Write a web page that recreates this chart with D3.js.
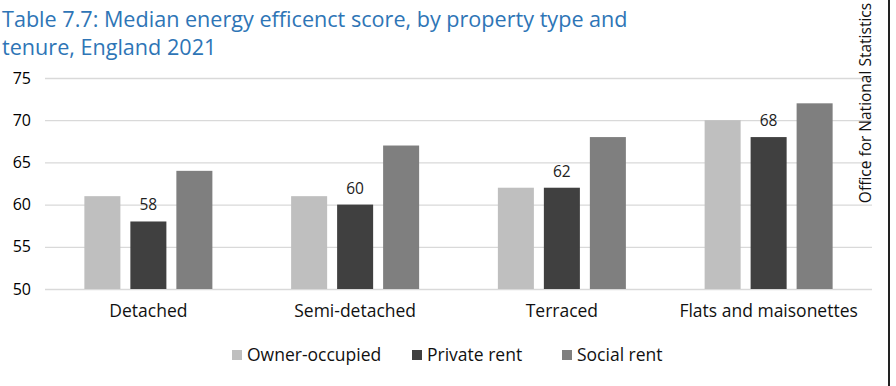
<!DOCTYPE html>
<html>
<head>
<meta charset="utf-8">
<script src="https://cdn.jsdelivr.net/npm/d3@7/dist/d3.min.js"></script>
<style>
  html, body { margin: 0; padding: 0; background: #fff; }
  svg { display: block; font-family: "Open Sans", "DejaVu Sans", sans-serif; }
</style>
</head>
<body>
<div id="chart"></div>
<script>
  const categories = ["Detached", "Semi-detached", "Terraced", "Flats and maisonettes"];
  const seriesNames = ["Owner-occupied", "Private rent", "Social rent"];
  const ownerOccupied = [61, 61, 62, 70];
  const privateRent = [58, 60, 62, 68];
  const socialRent = [64, 67, 68, 72];
  const yTicks = [50, 55, 60, 65, 70, 75];

  const colors = ["#bfbfbf", "#404040", "#7f7f7f"];
  const series = [ownerOccupied, privateRent, socialRent];

  const W = 896, H = 386;
  const m = { left: 45, right: 24, top: 78, bottom: 97 };

  const svg = d3.select("#chart").append("svg")
    .attr("width", W).attr("height", H);

  // title
  const title = svg.append("text")
    .attr("fill", "#2e75b6")
    .attr("font-size", 21.6);
  title.append("tspan").attr("x", 2).attr("y", 27)
    .text("Table 7.7: Median energy efficenct score, by property type and");
  title.append("tspan").attr("x", 2).attr("y", 55)
    .text("tenure, England 2021");

  const x = d3.scaleBand().domain(categories).range([m.left, W - m.right]);
  const y = d3.scaleLinear().domain([50, 75]).range([H - m.bottom, m.top]);
  const xs = d3.scaleBand().domain(seriesNames).range([0, x.bandwidth()])
    .paddingInner(0.217).paddingOuter(0.856);

  // gridlines
  const grid = svg.append("g")
    .call(d3.axisLeft(y).tickValues(yTicks).tickSize(-(W - m.left - m.right)).tickFormat(""))
    .attr("transform", `translate(${m.left},0)`);
  grid.select(".domain").remove();
  grid.selectAll("line").attr("stroke", "#d9d9d9").attr("stroke-width", 1.3);

  // y labels
  const yl = svg.append("g")
    .call(d3.axisLeft(y).tickValues(yTicks).tickSize(0).tickPadding(0))
    .attr("transform", "translate(31,0)");
  yl.select(".domain").remove();
  yl.selectAll("text").attr("font-size", 16).attr("fill", "#000")
    .attr("font-family", "Open Sans, sans-serif");

  // bars
  series.forEach((vals, si) => {
    svg.append("g").selectAll("rect")
      .data(vals)
      .join("rect")
      .attr("x", (d, i) => x(categories[i]) + xs(seriesNames[si]))
      .attr("y", d => y(d))
      .attr("width", xs.bandwidth())
      .attr("height", d => y(50) - y(d))
      .attr("fill", colors[si]);
  });

  // data labels on private rent
  svg.append("g").selectAll("text")
    .data(privateRent)
    .join("text")
    .attr("x", (d, i) => x(categories[i]) + xs(seriesNames[1]) + xs.bandwidth() / 2)
    .attr("y", d => y(d) - 11)
    .attr("text-anchor", "middle")
    .attr("font-size", 15.5)
    .attr("fill", "#222")
    .text(d => d);

  // x axis labels
  const xa = svg.append("g")
    .attr("transform", `translate(0,${H - m.bottom})`)
    .call(d3.axisBottom(x).tickSize(0).tickPadding(16));
  xa.select(".domain").remove();
  xa.selectAll("text").attr("font-size", 17.5).attr("fill", "#111")
    .attr("font-family", "Open Sans, sans-serif");

  // legend
  const legendX = [232, 412, 562];
  const lg = svg.append("g").selectAll("g")
    .data(seriesNames)
    .join("g")
    .attr("transform", (d, i) => `translate(${legendX[i]},350)`);
  lg.append("rect").attr("width", 10).attr("height", 10)
    .attr("fill", (d, i) => colors[i]);
  lg.append("text").attr("x", 15).attr("y", 11)
    .attr("font-size", 17.5).attr("fill", "#111")
    .text(d => d);

  // source, rotated
  svg.append("text")
    .attr("transform", "translate(871,103) rotate(-90)")
    .attr("text-anchor", "middle")
    .attr("font-size", 15.5)
    .attr("fill", "#111")
    .text("Office for National Statistics");

  // right border
  svg.append("line")
    .attr("x1", 889).attr("x2", 889).attr("y1", 0).attr("y2", H)
    .attr("stroke", "#222").attr("stroke-width", 2);
</script>
</body>
</html>
